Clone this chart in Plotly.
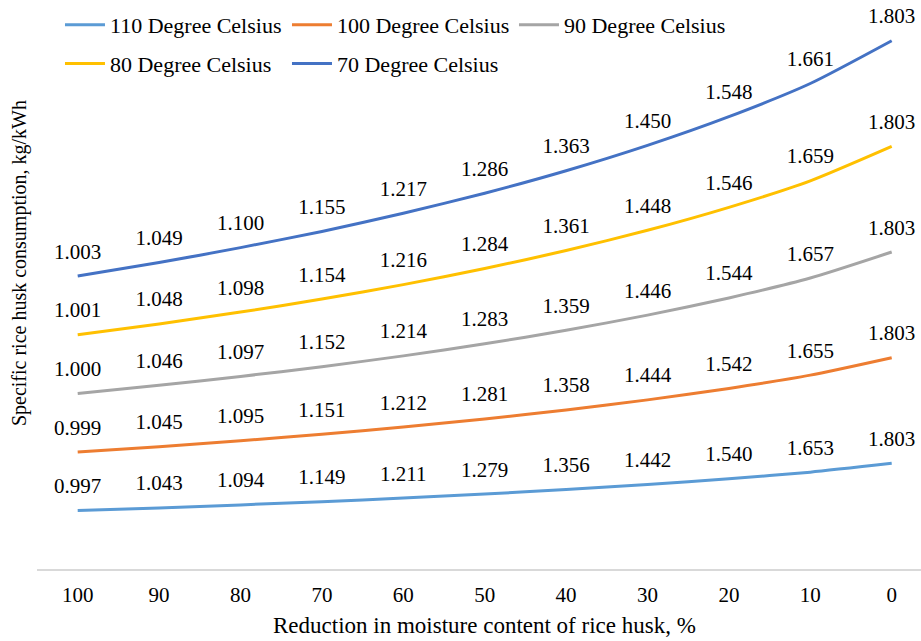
import plotly.graph_objects as go

categories = ["100", "90", "80", "70", "60", "50", "40", "30", "20", "10", "0"]
s110 = [0.997, 1.043, 1.094, 1.149, 1.211, 1.279, 1.356, 1.442, 1.540, 1.653, 1.803]
s100 = [0.999, 1.045, 1.095, 1.151, 1.212, 1.281, 1.358, 1.444, 1.542, 1.655, 1.803]
s90 = [1.000, 1.046, 1.097, 1.152, 1.214, 1.283, 1.359, 1.446, 1.544, 1.657, 1.803]
s80 = [1.001, 1.048, 1.098, 1.154, 1.216, 1.284, 1.361, 1.448, 1.546, 1.659, 1.803]
s70 = [1.003, 1.049, 1.100, 1.155, 1.217, 1.286, 1.363, 1.450, 1.548, 1.661, 1.803]

series = [
    ("110 Degree Celsius", s110, "#5B9BD5", "legend"),
    ("100 Degree Celsius", s100, "#ED7D31", "legend"),
    ("90 Degree Celsius", s90, "#A5A5A5", "legend"),
    ("80 Degree Celsius", s80, "#FFC000", "legend2"),
    ("70 Degree Celsius", s70, "#4472C4", "legend2"),
]

FONT = "Times New Roman, Liberation Serif, serif"
fig = go.Figure()
for name, vals, color, lg in series:
    fig.add_trace(go.Scatter(
        x=categories, y=vals, name=name, stackgroup="one", fill="none",
        mode="lines+markers+text",
        line=dict(color=color, width=3, shape="spline", smoothing=0.6),
        marker=dict(size=18, color="rgba(0,0,0,0)", line=dict(width=0)),
        text=[f"{v:.3f}" for v in vals], textposition="top center",
        textfont=dict(family=FONT, size=21, color="#000000"),
        legend=lg, cliponaxis=False, hoverinfo="skip",
    ))

legend_common = dict(orientation="h", x=0.026, xanchor="left", yanchor="top",
                     entrywidth=172, entrywidthmode="pixels", traceorder="normal",
                     itemwidth=40,
                     font=dict(family=FONT, size=22, color="#000000"),
                     bgcolor="rgba(0,0,0,0)")

fig.update_layout(
    width=921, height=641,
    margin=dict(l=37, r=0, t=0, b=72),
    paper_bgcolor="white", plot_bgcolor="white",
    font=dict(family=FONT, size=20, color="#000000"),
    showlegend=True,
    legend=dict(y=0.993, **legend_common),
    legend2=dict(y=0.925, **legend_common),
    xaxis=dict(type="category", range=[-0.5, 10.36], showgrid=False,
               showline=True, linecolor="#D9D9D9", linewidth=1.5,
               ticks="", ticklabelstandoff=6,
               tickfont=dict(family=FONT, size=21, color="#000000")),
    yaxis=dict(range=[0, 9.71], showgrid=False, showticklabels=False,
               zeroline=False, showline=False),
    annotations=[
        dict(text="Specific rice husk consumption, kg/kWh", textangle=-90,
             xref="paper", yref="paper", x=-0.019, y=0.538,
             xanchor="center", yanchor="middle", showarrow=False,
             font=dict(family=FONT, size=20, color="#000000")),
        dict(text="Reduction in moisture content of rice husk, %",
             xref="paper", yref="paper", x=0.5057, y=-0.1,
             xanchor="center", yanchor="middle", showarrow=False,
             font=dict(family=FONT, size=23, color="#000000")),
    ],
)

fig.write_html("out.html", config={"displayModeBar": False},
               post_script="document.body.style.margin='0';document.body.style.overflow='hidden';")
